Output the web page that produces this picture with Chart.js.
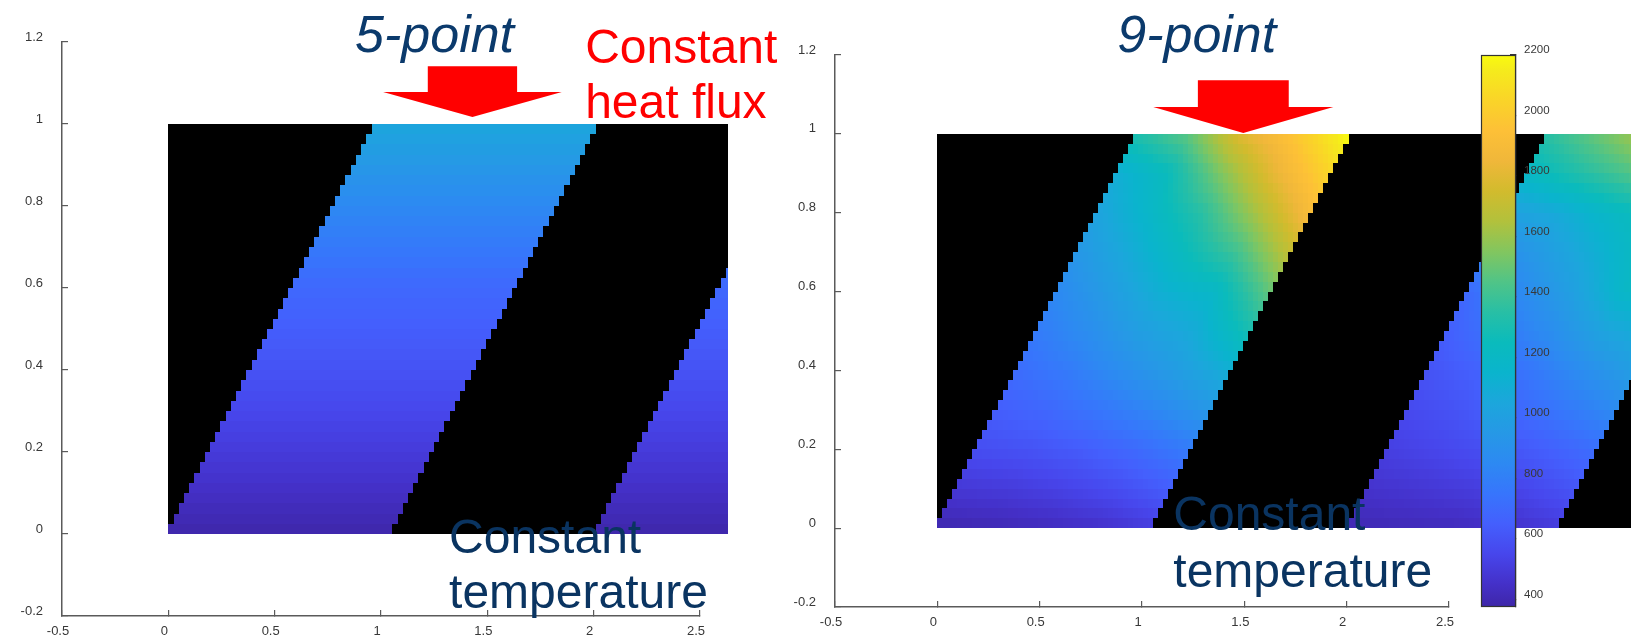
<!DOCTYPE html>
<html>
<head>
<meta charset="utf-8">
<title>5-point vs 9-point stencil</title>
<script src="https://cdn.jsdelivr.net/npm/chart.js@4.4.1/dist/chart.umd.min.js"></script>
<style>
  body { margin: 0; background: #fff; }
  #wrap { position: relative; width: 1631px; height: 638px; overflow: hidden; }
  canvas { position: absolute; top: 0; }
</style>
</head>
<body>
<div id="wrap">
  <canvas id="plot5" width="800" height="638" style="left:0"></canvas>
  <canvas id="plot9" width="861" height="638" style="left:770px"></canvas>
  <canvas id="cbar" width="231" height="638" style="left:1400px"></canvas>
</div>
<script>
// axis ticks
const xTicks = [-0.5, 0, 0.5, 1, 1.5, 2, 2.5];
const yTicks = [-0.2, 0, 0.2, 0.4, 0.6, 0.8, 1, 1.2];
const cbarTicks = [400, 600, 800, 1000, 1200, 1400, 1600, 1800, 2000, 2200];
const cbarRange = [375, 2200];

// conducting stripes in the unit-height block
const stripeBase = [-0.01, 1.99];  // left edge of each stripe at y = 0
const stripeWidth = 1.04;
const stripeLean = 0.98;           // edge shift per unit of height
const cellW = 0.0245, cellH = 0.025;

// temperature samples: rows at these heights, columns across a stripe (0 = left edge, 1 = right edge)
const sampleRows = [0, 0.2, 0.4, 0.6, 0.8, 0.9, 1];
const sampleCols = [0, 0.25, 0.5, 0.75, 1];

// 5-point stencil: varies with height only
const temp5 = [380, 500, 600, 690, 850, 950, 1050];

// 9-point stencil, first stripe
const temp9a = [
  [390, 400, 420, 450, 500],
  [580, 600, 640, 700, 780],
  [710, 780, 880, 980, 1100],
  [850, 980, 1120, 1190, 1480],
  [1030, 1180, 1350, 1620, 1900],
  [1100, 1250, 1550, 1830, 2050],
  [1320, 1480, 1800, 1980, 2200]
];
// 9-point stencil, second stripe
const temp9b = [
  [400, 410, 420, 450, 500],
  [520, 550, 590, 650, 720],
  [600, 660, 760, 880, 1000],
  [690, 850, 1000, 1190, 1250],
  [1000, 1080, 1200, 1300, 1380],
  [1200, 1330, 1450, 1550, 1600],
  [1350, 1500, 1650, 1750, 1800]
];

// colour map, value -> rgb
const cmap = [
  [375, 62, 38, 168], [450, 68, 48, 200], [550, 71, 70, 236], [650, 68, 95, 253],
  [750, 55, 117, 252], [850, 45, 137, 242], [950, 38, 152, 230], [1050, 28, 166, 220],
  [1150, 10, 180, 205], [1250, 10, 187, 188], [1350, 40, 191, 165], [1450, 80, 196, 135],
  [1550, 130, 198, 95], [1650, 178, 193, 60], [1750, 210, 187, 45], [1850, 240, 183, 58],
  [1950, 253, 192, 55], [2050, 250, 212, 40], [2150, 245, 235, 28], [2200, 249, 251, 14]
];

const tickFont = { family: 'Liberation Sans, Arial, sans-serif', size: 13 };
const cbarFont = { family: 'Liberation Sans, Arial, sans-serif', size: 11.5 };
const axisGrey = '#5a5a5a';
const labelGrey = '#383838';

function colourFor(v) {
  if (v <= cmap[0][0]) return `rgb(${cmap[0][1]},${cmap[0][2]},${cmap[0][3]})`;
  for (let k = 1; k < cmap.length; k++) {
    if (v <= cmap[k][0]) {
      const a = cmap[k - 1], b = cmap[k];
      const t = (v - a[0]) / (b[0] - a[0]);
      return `rgb(${Math.round(a[1] + t * (b[1] - a[1]))},${Math.round(a[2] + t * (b[2] - a[2]))},${Math.round(a[3] + t * (b[3] - a[3]))})`;
    }
  }
  const c = cmap[cmap.length - 1];
  return `rgb(${c[1]},${c[2]},${c[3]})`;
}

// shade a cell from the surrounding samples
function shade(table, s, h) {
  let r = 0;
  while (r < sampleRows.length - 2 && h > sampleRows[r + 1]) r++;
  const tr = (h - sampleRows[r]) / (sampleRows[r + 1] - sampleRows[r]);
  const rowAt = row => {
    if (!Array.isArray(row)) return row;
    let c = 0;
    while (c < sampleCols.length - 2 && s > sampleCols[c + 1]) c++;
    const tc = (s - sampleCols[c]) / (sampleCols[c + 1] - sampleCols[c]);
    return row[c] + tc * (row[c + 1] - row[c]);
  };
  const lo = rowAt(table[r]), hi = rowAt(table[r + 1]);
  return lo + tr * (hi - lo);
}

function stripeField(xEnd, tables) {
  return {
    id: 'stripeField',
    beforeDatasetsDraw(chart) {
      const { ctx, scales: { x, y } } = chart;
      ctx.save();
      const L = Math.round(x.getPixelForValue(0)), R = Math.round(x.getPixelForValue(xEnd));
      const T = Math.round(y.getPixelForValue(1)), B = Math.round(y.getPixelForValue(0));
      ctx.fillStyle = '#000';
      ctx.fillRect(L, T, R - L, B - T);
      stripeBase.forEach((base, k) => {
        const table = tables[k];
        for (let j = 0; (j + 0.5) * cellH < 1; j++) {
          const yc = (j + 0.5) * cellH;
          const left = base + stripeLean * yc;
          const top = Math.round(y.getPixelForValue((j + 1) * cellH));
          const bot = Math.round(y.getPixelForValue(j * cellH));
          for (let i = 0; i * cellW < xEnd; i++) {
            const xc = (i + 0.5) * cellW;
            const s = (xc - left) / stripeWidth;
            if (s < 0 || s >= 1) continue;
            const x0 = Math.round(x.getPixelForValue(i * cellW));
            const x1 = Math.round(x.getPixelForValue(Math.min((i + 1) * cellW, xEnd)));
            ctx.fillStyle = colourFor(shade(table, s, yc));
            ctx.fillRect(x0, top, x1 - x0, bot - top);
          }
        }
      });
      ctx.restore();
    }
  };
}

// labels and the heat-flux arrow, placed in data units
function notes(items, arrow) {
  return {
    id: 'notes',
    afterDraw(chart) {
      const { ctx, scales: { x, y } } = chart;
      ctx.save();
      const px = v => x.getPixelForValue(v), py = v => y.getPixelForValue(v);
      ctx.fillStyle = '#ff0000';
      ctx.beginPath();
      ctx.moveTo(px(arrow.x - arrow.shaft), py(arrow.top));
      ctx.lineTo(px(arrow.x + arrow.shaft), py(arrow.top));
      ctx.lineTo(px(arrow.x + arrow.shaft), py(arrow.neck));
      ctx.lineTo(px(arrow.x + arrow.head), py(arrow.neck));
      ctx.lineTo(px(arrow.x), py(arrow.tip));
      ctx.lineTo(px(arrow.x - arrow.head), py(arrow.neck));
      ctx.lineTo(px(arrow.x - arrow.shaft), py(arrow.neck));
      ctx.closePath();
      ctx.fill();
      ctx.textAlign = 'left';
      ctx.textBaseline = 'alphabetic';
      items.forEach(n => {
        ctx.font = n.font;
        ctx.fillStyle = n.color;
        ctx.fillText(n.text, px(n.x), py(n.y));
      });
      ctx.restore();
    }
  };
}

function axes(width, height) {
  const common = {
    border: { display: true, color: axisGrey, width: 1.5 },
    grid: { drawOnChartArea: false, drawTicks: true, tickLength: -6, color: axisGrey, lineWidth: 1.2 },
  };
  return {
    x: {
      ...common, type: 'linear', min: -0.5, max: 2.5,
      ticks: { font: tickFont, color: labelGrey, padding: 14, labelOffset: -4, autoSkip: false, maxRotation: 0, callback: v => String(v) },
      afterBuildTicks: s => { s.ticks = xTicks.map(v => ({ value: v })); },
      afterFit: s => { s.height = height; s.paddingLeft = 0; s.paddingRight = 0; }
    },
    y: {
      ...common, type: 'linear', min: -0.2, max: 1.2,
      ticks: { font: tickFont, color: labelGrey, padding: 25, labelOffset: -5, autoSkip: false, callback: v => String(v) },
      afterBuildTicks: s => { s.ticks = yTicks.map(v => ({ value: v })); },
      afterFit: s => { s.width = width; s.paddingTop = 0; s.paddingBottom = 0; }
    }
  };
}

const bigFont = '48px "Liberation Sans", Arial, sans-serif';
const titleFont = 'italic 52px "Liberation Sans", Arial, sans-serif';
const navy = '#0b3a6c';
const deepNavy = '#0a3461';

new Chart(document.getElementById('plot5'), {
  type: 'scatter',
  data: { datasets: [{ data: [] }] },
  options: {
    responsive: false, animation: false,
    layout: { autoPadding: false, padding: { left: 0, top: 42, right: 100, bottom: 0 } },
    plugins: { legend: { display: false }, tooltip: { enabled: false } },
    scales: axes(62, 22)
  },
  plugins: [
    stripeField(2.63, [temp5, temp5]),
    notes([
      { text: '5-point', x: 0.878, y: 1.176, font: titleFont, color: navy },
      { text: 'Constant', x: 1.96, y: 1.149, font: bigFont, color: '#ff0000' },
      { text: 'heat flux', x: 1.96, y: 1.015, font: bigFont, color: '#ff0000' },
      { text: 'Constant', x: 1.32, y: -0.046, font: bigFont, color: deepNavy },
      { text: 'temperature', x: 1.32, y: -0.18, font: bigFont, color: deepNavy }
    ], { x: 1.43, shaft: 0.21, head: 0.42, top: 1.141, neck: 1.078, tip: 1.017 })
  ]
});

new Chart(document.getElementById('plot9'), {
  type: 'scatter',
  data: { datasets: [{ data: [] }] },
  options: {
    responsive: false, animation: false,
    layout: { autoPadding: false, padding: { left: 0, top: 55, right: 182, bottom: 0 } },
    plugins: { legend: { display: false }, tooltip: { enabled: false } },
    scales: axes(65, 31)
  },
  plugins: [
    stripeField(3.5, [temp9a, temp9b]),
    notes([
      { text: '9-point', x: 0.879, y: 1.207, font: titleFont, color: navy },
      { text: 'Constant', x: 1.153, y: -0.005, font: bigFont, color: deepNavy },
      { text: 'temperature', x: 1.153, y: -0.15, font: bigFont, color: deepNavy }
    ], { x: 1.495, shaft: 0.222, head: 0.44, top: 1.136, neck: 1.068, tip: 1.002 })
  ]
});

// colour bar
new Chart(document.getElementById('cbar'), {
  type: 'scatter',
  data: { datasets: [{ data: [] }] },
  options: {
    responsive: false, animation: false,
    layout: { autoPadding: false, padding: { left: 81, top: 55, right: 0, bottom: 31 } },
    plugins: { legend: { display: false }, tooltip: { enabled: false } },
    scales: {
      x: { display: false, min: 0, max: 1 },
      y: {
        position: 'right', min: cbarRange[0], max: cbarRange[1],
        border: { display: true, color: '#333', width: 1.2 },
        grid: { drawOnChartArea: false, tickLength: -6, color: '#333', lineWidth: 1.2 },
        ticks: { font: cbarFont, color: labelGrey, padding: 14, labelOffset: -5, autoSkip: false, callback: v => String(v) },
        afterBuildTicks: s => { s.ticks = cbarTicks.map(v => ({ value: v })); },
        afterFit: s => { s.width = 115; s.paddingTop = 0; s.paddingBottom = 0; }
      }
    }
  },
  plugins: [{
    id: 'cbarFill',
    beforeDatasetsDraw(chart) {
      const { ctx, chartArea: a, scales: { y } } = chart;
      const g = ctx.createLinearGradient(0, y.getPixelForValue(cbarRange[0]), 0, y.getPixelForValue(cbarRange[1]));
      cmap.forEach(c => g.addColorStop((c[0] - cbarRange[0]) / (cbarRange[1] - cbarRange[0]), `rgb(${c[1]},${c[2]},${c[3]})`));
      ctx.save();
      ctx.fillStyle = g;
      ctx.fillRect(a.left, a.top, a.right - a.left, a.bottom - a.top);
      ctx.strokeStyle = '#333';
      ctx.lineWidth = 1.2;
      ctx.strokeRect(a.left + 0.5, a.top + 0.5, a.right - a.left - 1, a.bottom - a.top - 1);
      ctx.restore();
    }
  }]
});
</script>
</body>
</html>
